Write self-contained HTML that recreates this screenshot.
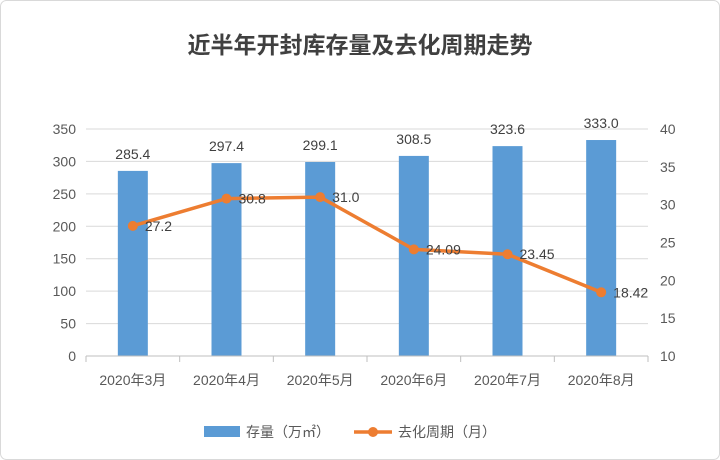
<!DOCTYPE html>
<html><head><meta charset="utf-8"><style>
html,body{margin:0;padding:0;background:#fff}
svg{display:block;font-family:"Liberation Sans","Noto Sans CJK SC",sans-serif}
</style></head><body>
<svg id="chart" width="720" height="460" viewBox="0 0 720 460">
<rect x="0.5" y="0.5" width="719" height="459" rx="6" fill="#fff" stroke="#d9d9d9"/>
<text x="360" y="53" text-anchor="middle" font-size="23" font-weight="bold" fill="#404040">近半年开封库存量及去化周期走势</text>
<g id="grid"></g><g id="bars"></g><g id="line"></g><g id="axes"></g>
<g>
<rect x="204" y="426" width="36" height="11" fill="#5b9bd5"/>
<text x="246" y="437" font-size="14" fill="#595959">存量（万㎡）</text>
<line x1="354" y1="432" x2="392" y2="432" stroke="#ed7d31" stroke-width="3.5"/>
<circle cx="373" cy="432" r="5" fill="#ed7d31"/>
<text x="398" y="437" font-size="14" fill="#595959">去化周期（月）</text>
</g>
</svg>
<script>
const categories=["2020年3月","2020年4月","2020年5月","2020年6月","2020年7月","2020年8月"];
const stock=[285.4,297.4,299.1,308.5,323.6,333.0];
const stockLabels=["285.4","297.4","299.1","308.5","323.6","333.0"];
const cycle=[27.2,30.8,31.0,24.09,23.45,18.42];
const cycleLabels=["27.2","30.8","31.0","24.09","23.45","18.42"];
const leftTicks=[0,50,100,150,200,250,300,350];
const rightTicks=[10,15,20,25,30,35,40];
const NS="http://www.w3.org/2000/svg";
const X0=86,X1=648,Y0=356,Y1=129;
const bw=(X1-X0)/categories.length;
const xc=i=>X0+bw*(i+0.5);
const yL=v=>Y0-(v-0)/(350-0)*(Y0-Y1);
const yR=v=>Y0-(v-10)/(40-10)*(Y0-Y1);
function mk(tag,attrs,parent,text){const e=document.createElementNS(NS,tag);for(const k in attrs)e.setAttribute(k,attrs[k]);if(text!==undefined)e.textContent=text;document.getElementById(parent).appendChild(e);return e;}
leftTicks.forEach(t=>{
 const g=mk('line',{x1:X0,x2:X1,y1:yL(t),y2:yL(t),stroke:'#d9d9d9','stroke-width':1},'grid');
 
 
 const l=mk('text',{x:76,y:yL(t)+5,'text-anchor':'end','font-size':14,fill:'#595959'},'axes',t);
 
 
});
rightTicks.forEach(t=>{
 const l=mk('text',{x:660,y:yR(t)+5,'font-size':14,fill:'#595959'},'axes',t);
 
 
});
const ax=mk('line',{x1:X0,x2:X1,y1:Y0,y2:Y0,stroke:'#bfbfbf','stroke-width':1},'axes');


for(let i=0;i<=categories.length;i++){
 const tk=mk('line',{x1:X0+bw*i,x2:X0+bw*i,y1:Y0,y2:Y0+6,stroke:'#bfbfbf'},'axes');
 
 
}
categories.forEach((c,i)=>{
 const l=mk('text',{x:xc(i),y:385,'text-anchor':'middle','font-size':14,fill:'#595959'},'axes',c);
 
 
 const b=mk('rect',{x:xc(i)-15,y:yL(stock[i]),width:30,height:Y0-yL(stock[i]),fill:'#5b9bd5'},'bars');
 
 
 const bl=mk('text',{x:xc(i),y:yL(stock[i])-12,'text-anchor':'middle','font-size':14,fill:'#404040'},'bars',stockLabels[i]);
 
 
});
const pl=mk('polyline',{points:cycle.map((v,i)=>xc(i)+','+yR(v)).join(' '),fill:'none',stroke:'#ed7d31','stroke-width':3.5,'stroke-linejoin':'round'},'line');


cycle.forEach((v,i)=>{
 const p=mk('circle',{cx:xc(i),cy:yR(v),r:5,fill:'#ed7d31'},'line');
 
 
 const t=mk('text',{x:xc(i)+12,y:yR(v)+5,'font-size':14,fill:'#404040'},'line',cycleLabels[i]);
 
 
});
</script>
</body></html>
